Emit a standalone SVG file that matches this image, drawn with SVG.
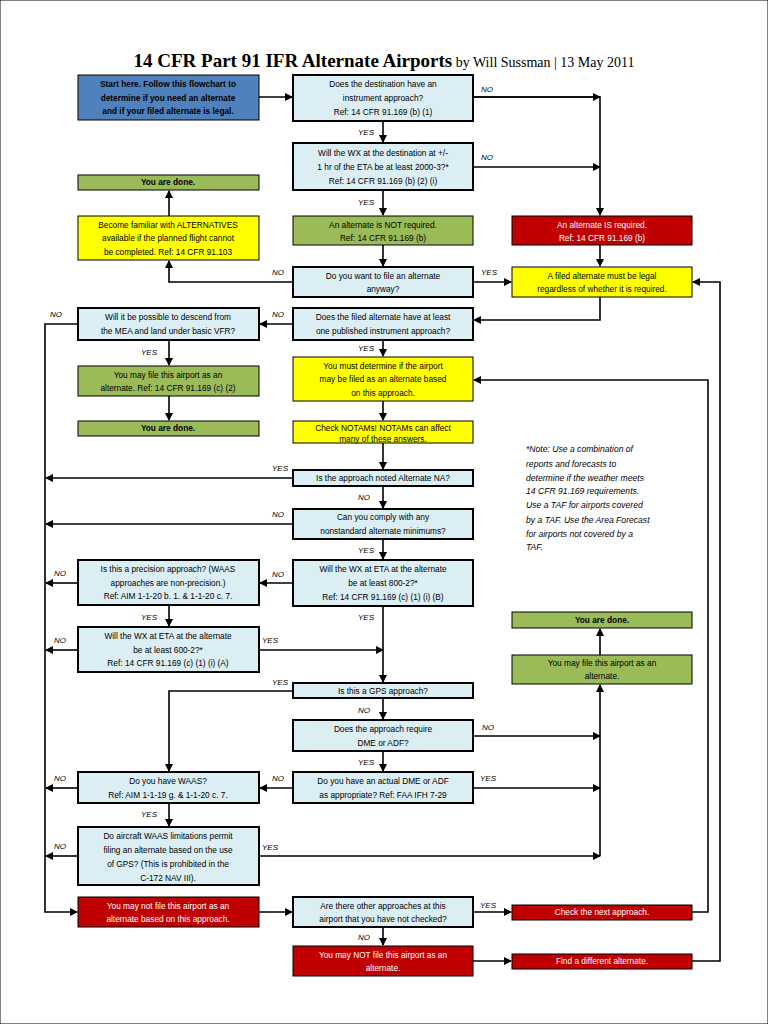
<svg xmlns="http://www.w3.org/2000/svg" width="768" height="1024" viewBox="0 0 768 1024">
<defs>
<marker id="a" markerWidth="8" markerHeight="8" refX="7" refY="4" orient="auto" markerUnits="userSpaceOnUse"><path d="M0,0 L8,4 L0,8 z" fill="#000"/></marker>
</defs>
<style>
rect{stroke:#000;stroke-width:1}
.q{fill:#dbeef4;stroke-width:2}
.g{fill:#9bbb59}
.y{fill:#ffff00}
.r{fill:#c00000}
.b{fill:#4f81bd}
text{font-family:"Liberation Sans",Arial,sans-serif;font-size:8.3px;text-anchor:middle;fill:#000}
.w{fill:#fff}
.bd{font-weight:bold}
.l{font-style:italic;font-size:8px;text-anchor:start}
.n{font-style:italic;font-size:8.6px;text-anchor:start}
#c path,#c line,#c polyline{stroke:#000;stroke-width:1.6;fill:none}
</style>
<rect x="0" y="0" width="768" height="1024" fill="#fff" stroke="none"/>
<text x="384" y="67" style="font-family:'Liberation Serif',serif;font-size:19px"><tspan font-weight="bold">14 CFR Part 91 IFR Alternate Airports</tspan><tspan font-size="14"> by Will Sussman | 13 May 2011</tspan></text>

<g id="c">
<line x1="259" y1="97" x2="292" y2="97" marker-end="url(#a)"/>
<polyline points="473,97 600,97 600,215" marker-end="url(#a)"/>
<line x1="473" y1="97" x2="600" y2="97" marker-end="url(#a)"/>
<line x1="473" y1="167" x2="600" y2="167" marker-end="url(#a)"/>
<line x1="383" y1="121" x2="383" y2="142" marker-end="url(#a)"/>
<line x1="383" y1="190" x2="383" y2="215" marker-end="url(#a)"/>
<line x1="383" y1="245" x2="383" y2="266" marker-end="url(#a)"/>
<line x1="600" y1="245" x2="600" y2="266" marker-end="url(#a)"/>
<polyline points="293,282 169,282 169,261" marker-end="url(#a)"/>
<line x1="169" y1="216" x2="169" y2="191" marker-end="url(#a)"/>
<line x1="473" y1="282" x2="511" y2="282" marker-end="url(#a)"/>
<polyline points="600,297 600,320 474,320" marker-end="url(#a)"/>
<polyline points="692,912 708,912 708,380 474,380" marker-end="url(#a)"/>
<polyline points="692,961 720,961 720,282 693,282" marker-end="url(#a)"/>
<line x1="293" y1="324" x2="260" y2="324" marker-end="url(#a)"/>
<polyline points="78,324 45,324 45,912 77,912" marker-end="url(#a)"/>
<line x1="169" y1="340" x2="169" y2="365" marker-end="url(#a)"/>
<line x1="169" y1="396" x2="169" y2="420" marker-end="url(#a)"/>
<line x1="383" y1="340" x2="383" y2="356" marker-end="url(#a)"/>
<line x1="383" y1="401" x2="383" y2="420" marker-end="url(#a)"/>
<line x1="383" y1="443" x2="383" y2="469" marker-end="url(#a)"/>
<line x1="293" y1="478" x2="46" y2="478" marker-end="url(#a)"/>
<line x1="383" y1="486" x2="383" y2="508" marker-end="url(#a)"/>
<line x1="293" y1="524" x2="46" y2="524" marker-end="url(#a)"/>
<line x1="383" y1="539" x2="383" y2="559" marker-end="url(#a)"/>
<line x1="293" y1="583" x2="260" y2="583" marker-end="url(#a)"/>
<line x1="78" y1="583" x2="46" y2="583" marker-end="url(#a)"/>
<line x1="169" y1="605" x2="169" y2="626" marker-end="url(#a)"/>
<line x1="78" y1="650" x2="46" y2="650" marker-end="url(#a)"/>
<line x1="259" y1="650" x2="383" y2="650" marker-end="url(#a)"/>
<line x1="383" y1="606" x2="383" y2="682" marker-end="url(#a)"/>
<polyline points="293,691 169,691 169,771" marker-end="url(#a)"/>
<line x1="383" y1="698" x2="383" y2="719" marker-end="url(#a)"/>
<line x1="473" y1="736" x2="600" y2="736" marker-end="url(#a)"/>
<line x1="600" y1="856" x2="600" y2="685" marker-end="url(#a)"/>
<line x1="600" y1="655" x2="600" y2="629" marker-end="url(#a)"/>
<line x1="383" y1="751" x2="383" y2="771" marker-end="url(#a)"/>
<line x1="473" y1="788" x2="600" y2="788" marker-end="url(#a)"/>
<line x1="293" y1="788" x2="260" y2="788" marker-end="url(#a)"/>
<line x1="78" y1="788" x2="46" y2="788" marker-end="url(#a)"/>
<line x1="169" y1="803" x2="169" y2="826" marker-end="url(#a)"/>
<line x1="78" y1="856" x2="46" y2="856" marker-end="url(#a)"/>
<line x1="259" y1="856" x2="600" y2="856" marker-end="url(#a)"/>
<line x1="259" y1="912" x2="292" y2="912" marker-end="url(#a)"/>
<line x1="473" y1="912" x2="511" y2="912" marker-end="url(#a)"/>
<line x1="383" y1="927" x2="383" y2="945" marker-end="url(#a)"/>
<line x1="473" y1="961" x2="511" y2="961" marker-end="url(#a)"/>
</g>

<g id="labels">
<text class="l" x="481" y="92">NO</text>
<text class="l" x="358" y="135">YES</text>
<text class="l" x="481" y="160">NO</text>
<text class="l" x="358" y="205">YES</text>
<text class="l" x="272" y="275">NO</text>
<text class="l" x="481" y="275">YES</text>
<text class="l" x="272" y="317">NO</text>
<text class="l" x="50" y="317">NO</text>
<text class="l" x="141" y="355">YES</text>
<text class="l" x="358" y="351">YES</text>
<text class="l" x="272" y="471">YES</text>
<text class="l" x="358" y="500">NO</text>
<text class="l" x="272" y="517">NO</text>
<text class="l" x="358" y="553">YES</text>
<text class="l" x="54" y="576">NO</text>
<text class="l" x="272" y="577">NO</text>
<text class="l" x="141" y="620">YES</text>
<text class="l" x="358" y="620">YES</text>
<text class="l" x="54" y="643">NO</text>
<text class="l" x="262" y="643">YES</text>
<text class="l" x="272" y="685">YES</text>
<text class="l" x="358" y="713">NO</text>
<text class="l" x="482" y="730">NO</text>
<text class="l" x="358" y="765">YES</text>
<text class="l" x="54" y="781">NO</text>
<text class="l" x="272" y="781">NO</text>
<text class="l" x="480" y="781">YES</text>
<text class="l" x="141" y="817">YES</text>
<text class="l" x="54" y="849">NO</text>
<text class="l" x="262" y="850">YES</text>
<text class="l" x="480" y="908">YES</text>
<text class="l" x="358" y="940">NO</text>
</g>

<g id="start"><rect class="b" x="78" y="75" width="181" height="45"/><text class="bd" x="168" y="87">Start here. Follow this flowchart to</text><text class="bd" x="168" y="101">determine if you need an alternate</text><text class="bd" x="168" y="114">and if your filed alternate is legal.</text></g>
<g id="q1"><rect class="q" x="293" y="75" width="180" height="46"/><text x="383" y="87">Does the destination have an</text><text x="383" y="101">instrument approach?</text><text x="383" y="115">Ref: 14 CFR 91.169 (b) (1)</text></g>
<g id="q2"><rect class="q" x="293" y="143" width="180" height="47"/><text x="383" y="156">Will the WX at the destination at +/-</text><text x="383" y="170">1 hr of the ETA be at least 2000-3?*</text><text x="383" y="184">Ref: 14 CFR 91.169 (b) (2) (i)</text></g>
<g id="done1"><rect class="g" x="78" y="175" width="181" height="15"/><text class="bd" x="168" y="185">You are done.</text></g>
<g id="familiar"><rect class="y" x="78" y="216" width="181" height="44"/><text x="168" y="228">Become familiar with ALTERNATIVES</text><text x="168" y="241">available if the planned flight cannot</text><text x="168" y="255">be completed. Ref: 14 CFR 91.103</text></g>
<g id="notreq"><rect class="g" x="293" y="216" width="180" height="29"/><text x="383" y="228">An alternate is NOT required.</text><text x="383" y="241">Ref: 14 CFR 91.169 (b)</text></g>
<g id="isreq"><rect class="r" x="512" y="216" width="180" height="29"/><text class="w" x="602" y="228">An alternate IS required.</text><text class="w" x="602" y="241">Ref: 14 CFR 91.169 (b)</text></g>
<g id="wantfile"><rect class="q" x="293" y="267" width="180" height="30"/><text x="383" y="279">Do you want to file an alternate</text><text x="383" y="292">anyway?</text></g>
<g id="legal"><rect class="y" x="512" y="267" width="180" height="30"/><text x="602" y="279">A filed alternate must be legal</text><text x="602" y="292">regardless of whether it is required.</text></g>
<g id="descend"><rect class="q" x="78" y="308" width="181" height="32"/><text x="168" y="320">Will it be possible to descend from</text><text x="168" y="334">the MEA and land under basic VFR?</text></g>
<g id="hasapp"><rect class="q" x="293" y="308" width="180" height="32"/><text x="383" y="320">Does the filed alternate have at least</text><text x="383" y="334">one published instrument approach?</text></g>
<g id="mayfile1"><rect class="g" x="78" y="366" width="181" height="30"/><text x="168" y="378">You may file this airport as an</text><text x="168" y="391">alternate. Ref: 14 CFR 91.169 (c) (2)</text></g>
<g id="must"><rect class="y" x="293" y="357" width="180" height="44"/><text x="383" y="369">You must determine if the airport</text><text x="383" y="382">may be filed as an alternate based</text><text x="383" y="396">on this approach.</text></g>
<g id="done2"><rect class="g" x="78" y="421" width="181" height="15"/><text class="bd" x="168" y="431">You are done.</text></g>
<g id="notams"><rect class="y" x="293" y="421" width="180" height="22"/><text x="383" y="431">Check NOTAMs! NOTAMs can affect</text><text x="383" y="442">many of these answers.</text></g>
<g id="altna"><rect class="q" x="293" y="470" width="180" height="16"/><text x="383" y="481">Is the approach noted Alternate NA?</text></g>
<g id="comply"><rect class="q" x="293" y="509" width="180" height="30"/><text x="383" y="520">Can you comply with any</text><text x="383" y="534">nonstandard alternate minimums?</text></g>
<g id="precision"><rect class="q" x="78" y="560" width="181" height="45"/><text x="168" y="572">Is this a precision approach? (WAAS</text><text x="168" y="586">approaches are non-precision.)</text><text x="168" y="599">Ref: AIM 1-1-20 b. 1. &amp; 1-1-20 c. 7.</text></g>
<g id="wx800"><rect class="q" x="293" y="560" width="180" height="46"/><text x="383" y="572">Will the WX at ETA at the alternate</text><text x="383" y="586">be at least 800-2?*</text><text x="383" y="600">Ref: 14 CFR 91.169 (c) (1) (i) (B)</text></g>
<g id="done3"><rect class="g" x="512" y="612" width="180" height="16"/><text class="bd" x="602" y="623">You are done.</text></g>
<g id="wx600"><rect class="q" x="78" y="627" width="181" height="45"/><text x="168" y="639">Will the WX at ETA at the alternate</text><text x="168" y="653">be at least 600-2?*</text><text x="168" y="666">Ref: 14 CFR 91.169 (c) (1) (i) (A)</text></g>
<g id="mayfile2"><rect class="g" x="512" y="655" width="180" height="29"/><text x="602" y="666">You may file this airport as an</text><text x="602" y="679">alternate.</text></g>
<g id="gps"><rect class="q" x="293" y="683" width="180" height="15"/><text x="383" y="694">Is this a GPS approach?</text></g>
<g id="dme"><rect class="q" x="293" y="720" width="180" height="31"/><text x="383" y="732">Does the approach require</text><text x="383" y="746">DME or ADF?</text></g>
<g id="waas"><rect class="q" x="78" y="772" width="181" height="31"/><text x="168" y="784">Do you have WAAS?</text><text x="168" y="798">Ref: AIM 1-1-19 g. &amp; 1-1-20 c. 7.</text></g>
<g id="actual"><rect class="q" x="293" y="772" width="180" height="31"/><text x="383" y="784">Do you have an actual DME or ADF</text><text x="383" y="798">as appropriate? Ref: FAA IFH 7-29</text></g>
<g id="waaslim"><rect class="q" x="78" y="827" width="181" height="58"/><text x="168" y="839">Do aircraft WAAS limitations permit</text><text x="168" y="853">filing an alternate based on the use</text><text x="168" y="867">of GPS? (This is prohibited in the</text><text x="168" y="881">C-172 NAV III).</text></g>
<g id="maynot1"><rect class="r" x="78" y="897" width="181" height="30"/><text class="w" x="168" y="909">You may not file this airport as an</text><text class="w" x="168" y="922">alternate based on this approach.</text></g>
<g id="other"><rect class="q" x="293" y="897" width="180" height="30"/><text x="383" y="909">Are there other approaches at this</text><text x="383" y="922">airport that you have not checked?</text></g>
<g id="checknext"><rect class="r" x="512" y="905" width="180" height="15"/><text class="w" x="602" y="915">Check the next approach.</text></g>
<g id="maynot2"><rect class="r" x="293" y="946" width="180" height="30"/><text class="w" x="383" y="958">You may NOT file this airport as an</text><text class="w" x="383" y="971">alternate.</text></g>
<g id="finddiff"><rect class="r" x="512" y="954" width="180" height="15"/><text class="w" x="602" y="964">Find a different alternate.</text></g>

<g id="note">
<text class="n" x="526" y="452">*Note:  Use  a  combination  of</text>
<text class="n" x="526" y="467">reports    and    forecasts    to</text>
<text class="n" x="526" y="481">determine if the weather meets</text>
<text class="n" x="526" y="494">14  CFR  91.169  requirements.</text>
<text class="n" x="526" y="508">Use a TAF for airports covered</text>
<text class="n" x="526" y="523">by a TAF. Use the Area Forecast</text>
<text class="n" x="526" y="537">for  airports  not  covered  by  a</text>
<text class="n" x="526" y="550">TAF.</text>
</g>
</svg>
